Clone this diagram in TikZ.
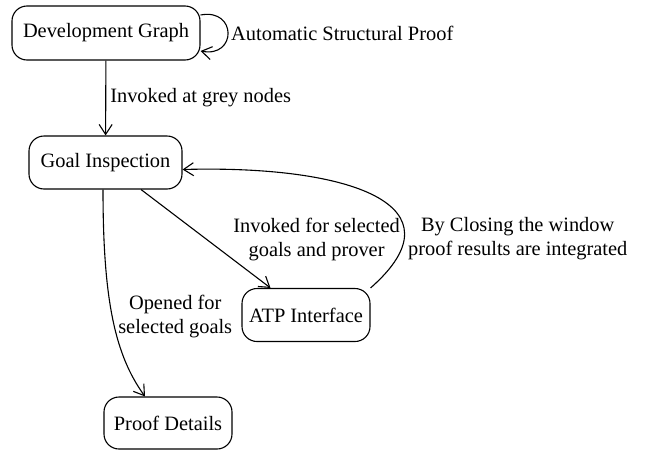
\documentclass[tikz,border=0pt]{standalone}
\usepackage{fontspec}
\setmainfont{Liberation Serif}
\newfontfamily\diagfont{Liberation Serif}
\usetikzlibrary{arrows.meta}
\begin{document}
\begin{tikzpicture}[x=1pt,y=-1pt,
  box/.style={draw,line width=1.1pt,rounded corners=15pt,inner sep=0pt},
  arr/.style={draw,line width=1.1pt,-{Straight Barb[length=10pt,width=13pt,line width=1.1pt]}},
  lbl/.style={inner sep=0pt,align=center},
  font=\diagfont\fontsize{20.4}{24}\selectfont]
\useasboundingbox (0,0) rectangle (645,450);
\node[box,minimum width=188pt,minimum height=54pt] (dev) at (106,33) {Development Graph};
\node[box,minimum width=153pt,minimum height=53pt] (goal) at (105.5,162.5) {Goal Inspection};
\node[box,minimum width=128pt,minimum height=53pt] (atp) at (306,315) {ATP Interface};
\node[box,minimum width=128pt,minimum height=52pt] (proof) at (168,423) {Proof Details};

\draw[arr] ([yshift=18pt]dev.east) .. controls (237,8) and (237,58) .. ([yshift=-18pt]dev.east);
\node[lbl,anchor=west] (auto) at (231,33) {Automatic Structural Proof};

\draw[arr] (dev) -- (goal) node[lbl,midway,right=4pt] {Invoked at grey nodes};

\draw[arr] (goal) -- (atp) node[lbl,midway,right=27pt,yshift=-1pt] {Invoked for selected\\goals and prover};

\draw[arr] (atp.north east) .. controls (465,205) and (350,165) .. ([yshift=-7pt]goal.east)
  node[lbl,pos=0.25,anchor=west,xshift=3pt,yshift=-5pt] {By Closing the window\\proof results are integrated};

\draw[arr] ([xshift=-2.5pt]goal.south) .. controls (103,300) and (115,355) .. ([xshift=-23pt]proof.north)
  node[lbl,pos=0.5,anchor=west,xshift=5pt,yshift=2pt] {Opened for\\selected goals};
\end{tikzpicture}
\end{document}
